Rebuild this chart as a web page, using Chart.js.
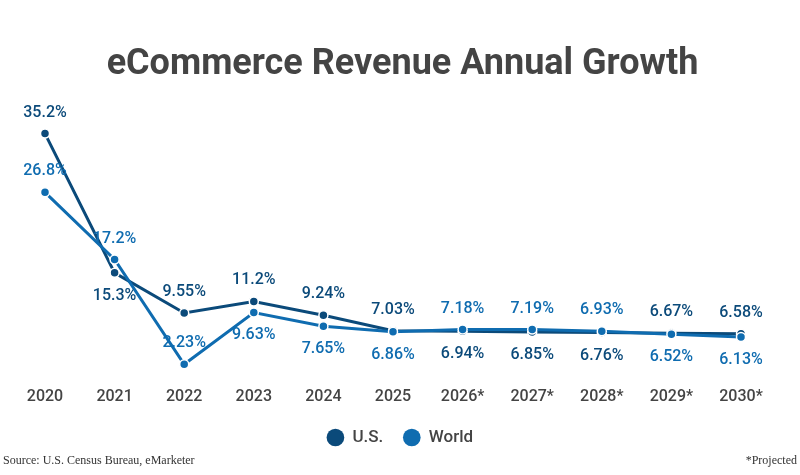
<!DOCTYPE html>
<html>
<head>
<meta charset="utf-8">
<script src="https://cdn.jsdelivr.net/npm/chart.js@4"></script>
<style>
  html, body { margin: 0; padding: 0; background: #fff; }
  #wrap { position: relative; width: 800px; height: 475px; }
  #title { position: absolute; left: 0; top: 41px; width: 805px; text-align: center;
           font: bold 36px/42px Roboto, sans-serif; color: #444; }
  .note { position: absolute; bottom: 7px; font-family: "Liberation Serif", serif; font-size: 12px; color: #333; }
</style>
</head>
<body>
<div id="wrap">
  <canvas id="chart" width="800" height="475"></canvas>
  <div id="title">eCommerce Revenue Annual Growth</div>
  <div class="note" style="left:3px">Source: U.S. Census Bureau, eMarketer</div>
  <div class="note" style="right:3px">*Projected</div>
</div>
<script>
// eCommerce revenue growth, % per year
const years       = ["2020", "2021", "2022", "2023", "2024", "2025", "2026*", "2027*", "2028*", "2029*", "2030*"];
const usGrowth    = [35.2, 15.3, 9.55, 11.2, 9.24, 7.03, 6.94, 6.85, 6.76, 6.67, 6.58];
const worldGrowth = [26.8, 17.2, 2.23, 9.63, 7.65, 6.86, 7.18, 7.19, 6.93, 6.52, 6.13];

// where each value label sits relative to its point
const usLabelPos    = ["up", "down", "up", "up", "up", "up", "down", "down", "down", "up", "up"];
const worldLabelPos = ["up", "up", "up", "down", "down", "down", "up", "up", "up", "down", "down"];

const US_COLOR    = "#0b4a7a";
const WORLD_COLOR = "#0f6cb0";

// draws the "xx.x%" labels next to each point
const valueLabels = {
  id: "valueLabels",
  afterDatasetsDraw(chart) {
    const ctx = chart.ctx;
    ctx.save();
    ctx.font = "500 16px Roboto";
    ctx.textAlign = "center";
    ctx.textBaseline = "middle";
    chart.data.datasets.forEach((ds, i) => {
      const meta = chart.getDatasetMeta(i);
      ctx.fillStyle = ds.borderColor;
      meta.data.forEach((pt, j) => {
        const dy = ds.labelPos[j] === "up" ? -21 : 23;
        ctx.fillText(ds.data[j] + "%", pt.x, pt.y + dy);
      });
    });
    ctx.restore();
  }
};

// legend sits a bit right of the plot centre in the original
const nudgeLegend = {
  id: "nudgeLegend",
  afterLayout(chart) {
    chart.legend.left += 7;
    chart.legend.right += 7;
  }
};

new Chart(document.getElementById("chart"), {
  type: "line",
  data: {
    labels: years,
    datasets: [
      {
        label: "U.S.",
        data: usGrowth,
        labelPos: usLabelPos,
        borderColor: US_COLOR,
        backgroundColor: US_COLOR,
        borderWidth: 3,
        pointRadius: 4.5,
        pointBorderColor: "#fff",
        pointBorderWidth: 1.5,
        order: 1,
      },
      {
        label: "World",
        data: worldGrowth,
        labelPos: worldLabelPos,
        borderColor: WORLD_COLOR,
        backgroundColor: WORLD_COLOR,
        borderWidth: 3,
        pointRadius: 4.5,
        pointBorderColor: "#fff",
        pointBorderWidth: 1.5,
        order: 0,   // world line sits on top
      },
    ],
  },
  options: {
    responsive: false,
    animation: false,
    layout: { padding: { top: 100, left: 45, right: 59, bottom: 19 } },
    scales: {
      x: {
        offset: false,
        grid: { display: false, drawTicks: false },
        border: { display: false },
        ticks: { color: "#444", font: { family: "Roboto", size: 16, weight: "500" }, padding: 2, maxRotation: 0 },
      },
      // a little room under zero so the year labels sit lower
      y: { display: false, min: -0.85, max: 40 },
    },
    plugins: {
      legend: {
        position: "bottom",
        labels: {
          usePointStyle: true,
          pointStyle: "circle",
          boxHeight: 12.5,
          color: "#444",
          font: { family: "Roboto", size: 17, weight: "500" },
          padding: 20,
          sort: (a, b) => a.datasetIndex - b.datasetIndex,
          // solid dots in the legend, no white rim
          generateLabels: (chart) =>
            Chart.defaults.plugins.legend.labels.generateLabels(chart).map(item => {
              item.strokeStyle = item.fillStyle;
              item.lineWidth = 0;
              return item;
            }),
        },
      },
      tooltip: { enabled: false },
    },
  },
  plugins: [valueLabels, nudgeLegend],
});
</script>
</body>
</html>
